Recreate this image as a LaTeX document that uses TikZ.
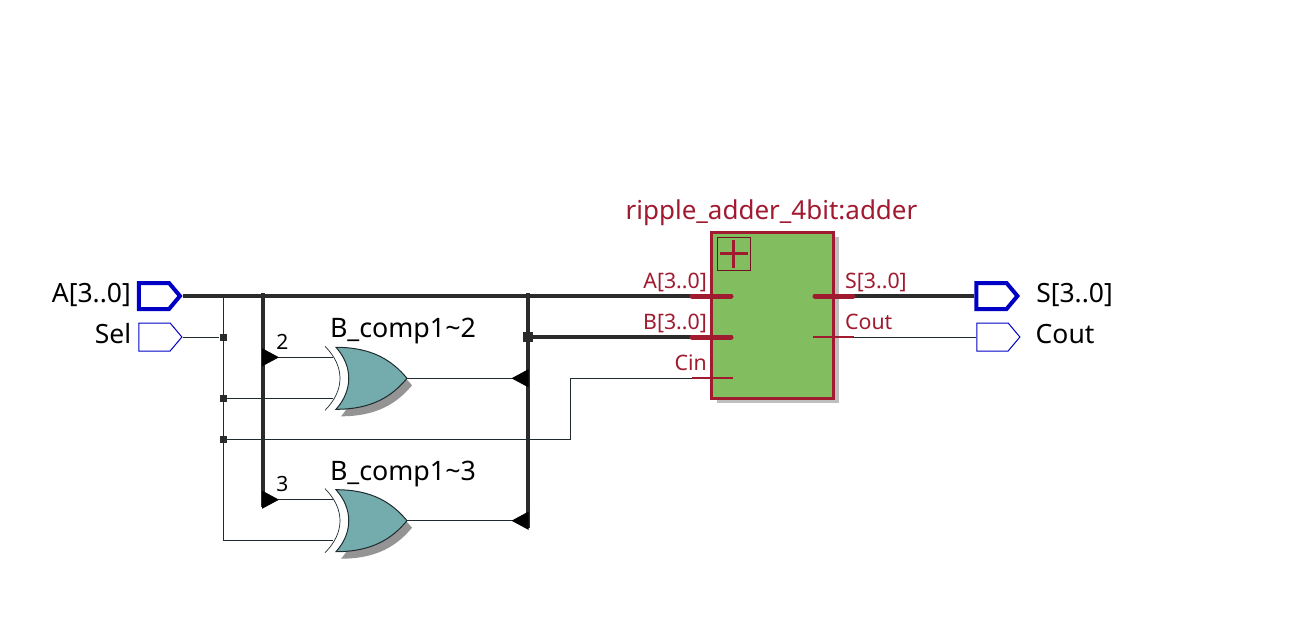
\documentclass[tikz,border=0pt]{standalone}
\usepackage{fontspec}
\usepackage{xcolor}
\usetikzlibrary{shapes.symbols, arrows.meta, positioning, shadows}
\setmainfont{Noto Sans}
\definecolor{wirecol}{HTML}{1F2B2E}
\definecolor{buscol}{HTML}{2B2B2B}
\definecolor{pincol}{HTML}{0000C4}
\definecolor{modcol}{HTML}{A01A30}
\definecolor{modfill}{HTML}{82BE5F}
\definecolor{gatefill}{HTML}{74ACAE}
\tikzset{
  wire/.style={draw=wirecol, line width=1pt},
  bus/.style={draw=buscol, line width=4pt},
  ripL/.style={wire, {Triangle[reversed, length=17pt, width=18pt, color=black]}-},
  ripR/.style={wire, -{Triangle[reversed, length=17pt, width=18pt, color=black]}},
  junct/.style={rectangle, fill=buscol, inner sep=0pt, minimum size=7pt},
  bigjunct/.style={rectangle, fill=buscol, inner sep=0pt, minimum size=10pt},
  pinthin/.style={signal, signal to=east, signal pointer angle=100, draw=pincol,
    line width=1pt, minimum width=43pt, minimum height=28pt, inner sep=0pt},
  pinbus/.style={signal, signal to=east, signal pointer angle=100, draw=pincol,
    line width=4pt, minimum width=41pt, minimum height=26pt, inner sep=0pt},
  pinlabel/.style={font=\fontsize{26.5}{28}\selectfont, text=black, inner sep=0pt},
  gatelabel/.style={font=\fontsize{26.8}{28}\selectfont, text=black, inner sep=0pt, anchor=base},
  ripnum/.style={font=\fontsize{21}{22}\selectfont, text=black, inner sep=0pt, anchor=base},
  module/.style={rectangle, draw=modcol, fill=modfill, line width=3pt, inner sep=0pt,
    minimum width=122pt, minimum height=166pt,
    drop shadow={shadow xshift=5pt, shadow yshift=-5pt, fill=black!25, opacity=1}},
  modname/.style={font=\fontsize{26}{28}\selectfont, text=modcol, inner sep=0pt, anchor=base},
  portname/.style={font=\fontsize{21.3}{24}\selectfont, text=modcol, inner sep=0pt},
  buspin/.style={draw=modcol, line width=5pt, line cap=round},
  thinpin/.style={draw=modcol, line width=1.6pt},
  expand/.style={rectangle, draw=modcol!70!black, line width=1pt, inner sep=0pt, minimum size=33pt},
  xorgate/.pic={
    \fill[black!42] (-66,-24) .. controls (-30,-24) and (-10,-11) .. (5,7)
      .. controls (-10,25) and (-30,38) .. (-66,38)
      .. controls (-49,19) and (-49,-5) .. (-66,-24) -- cycle;
    \draw[wirecol, line width=1pt, fill=gatefill] (-71,-31) .. controls (-35,-31) and (-15,-18) .. (0,0)
      .. controls (-15,18) and (-35,31) .. (-71,31)
      .. controls (-54,12) and (-54,-12) .. (-71,-31) -- cycle;
    \draw[wirecol, line width=0.7pt] (-82,-32) .. controls (-62,-12) and (-62,12) .. (-82,32);
    \coordinate (-ina) at (-74,-21);
    \coordinate (-inb) at (-74,20);
    \coordinate (-out) at (0,0);
  },
}
\begin{document}
\begin{tikzpicture}[x=1pt, y=-1pt]
  \useasboundingbox (0,0) rectangle (1292,635);

  % Ports on the left
  \node[pinbus] (pinA) at (154,296) {};
  \node[pinthin] (pinSel) at (154.5,337) {};
  \node[pinlabel, left=6pt of pinA, anchor=base east, yshift=-6.5pt] (labA) {A[3..0]};
  \node[pinlabel, left=7pt of pinSel, anchor=base east, yshift=-6pt] (labSel) {Sel};

  % Ports on the right
  \node[pinbus] (pinS) at (991.5,296) {};
  \node[pinthin] (pinCout) at (992.5,337) {};
  \node[pinlabel, right=16pt of pinS, anchor=base west, yshift=-6.5pt] (labS) {S[3..0]};
  \node[pinlabel, right=15pt of pinCout, anchor=base west, yshift=-6pt] (labCout) {Cout};

  % Gates
  \pic (xa) at (407,378.3) {xorgate};
  \pic (xb) at (407,520.7) {xorgate};
  \node[gatelabel] (laba) at (403,337.5) {B\_comp1\textasciitilde 2};
  \node[gatelabel] (labb) at (403,480) {B\_comp1\textasciitilde 3};

  % Adder block
  \node[module] (adder) at (772.5,315) {};
  \node[expand] (plus) at (733.5,253.5) {};
  \draw[modcol, line width=3pt] (plus.center) ++(-14,0) -- ++(28,0) (plus.center) ++(0,-14) -- ++(0,28);
  \node[modname] (addname) at (771.5,219) {ripple\_adder\_4bit:adder};

  % Junctions and corners
  \coordinate (tapA) at (223,296);
  \coordinate (busL) at (263,293);
  \coordinate (busLend) at (263,507);
  \coordinate (busR) at (528,293);
  \coordinate (busRend) at (528,528);
  \coordinate (ripa) at (262,357.3);
  \coordinate (ripb) at (262,499.7);
  \coordinate (ripc) at (528.5,378.3);
  \coordinate (ripd) at (528.5,520.7);
  \coordinate (cina) at (570,439);
  \coordinate (cinb) at (570,378);
  \coordinate (addAo) at (692,296);
  \coordinate (addBo) at (692,337);
  \coordinate (addCo) at (692,378);
  \coordinate (addSo) at (853,296);
  \coordinate (addCouto) at (854,337);
  \node[junct] (jsel) at (223,337) {};
  \node[junct] (jinb) at (223,398.3) {};
  \node[junct] (jcin) at (223,439) {};
  \node[bigjunct] (jb) at (528,337) {};

  % Thin wires
  \draw[wire] (tapA) |- (xb-inb);
  \draw[wire] (pinSel.east) -- (jsel);
  \draw[wire] (jinb) -- (xa-inb);
  \draw[wire] (jcin) -- (cina) -- (cinb) -- (addCo);
  \draw[wire] (addCouto) -- (pinCout.west);

  % Busses
  \draw[bus] (pinA.east) -- (addAo);
  \draw[bus] (busL) -- (busLend);
  \draw[bus] (busR) -- (busRend);
  \draw[bus] (jb) -- (addBo);
  \draw[bus] (addSo) -- (pinS.west);

  % Rippers
  \draw[ripL] (ripa) -- (xa-ina);
  \draw[ripL] (ripb) -- (xb-ina);
  \draw[ripR] (xa-out) -- (ripc);
  \draw[ripR] (xb-out) -- (ripd);
  \node[ripnum] (numa) at (282.5,349.5) {2};
  \node[ripnum] (numb) at (282.5,491.7) {3};

  % Adder pins
  \draw[buspin] (addAo) -- (731,296);
  \draw[buspin] (addBo) -- (731,337);
  \draw[thinpin] (addCo) -- (733,378);
  \draw[buspin] (815,296) -- (addSo);
  \draw[thinpin] (813,337) -- (addCouto);
  \node[portname, anchor=base east] (pa) at (707,288.3) {A[3..0]};
  \node[portname, anchor=base east] (pb) at (707,329.5) {B[3..0]};
  \node[portname, anchor=base east] (pc) at (707,370) {Cin};
  \node[portname, anchor=base west] (ps) at (845,288.5) {S[3..0]};
  \node[portname, anchor=base west] (pco) at (845,329) {Cout};
\end{tikzpicture}
\end{document}
